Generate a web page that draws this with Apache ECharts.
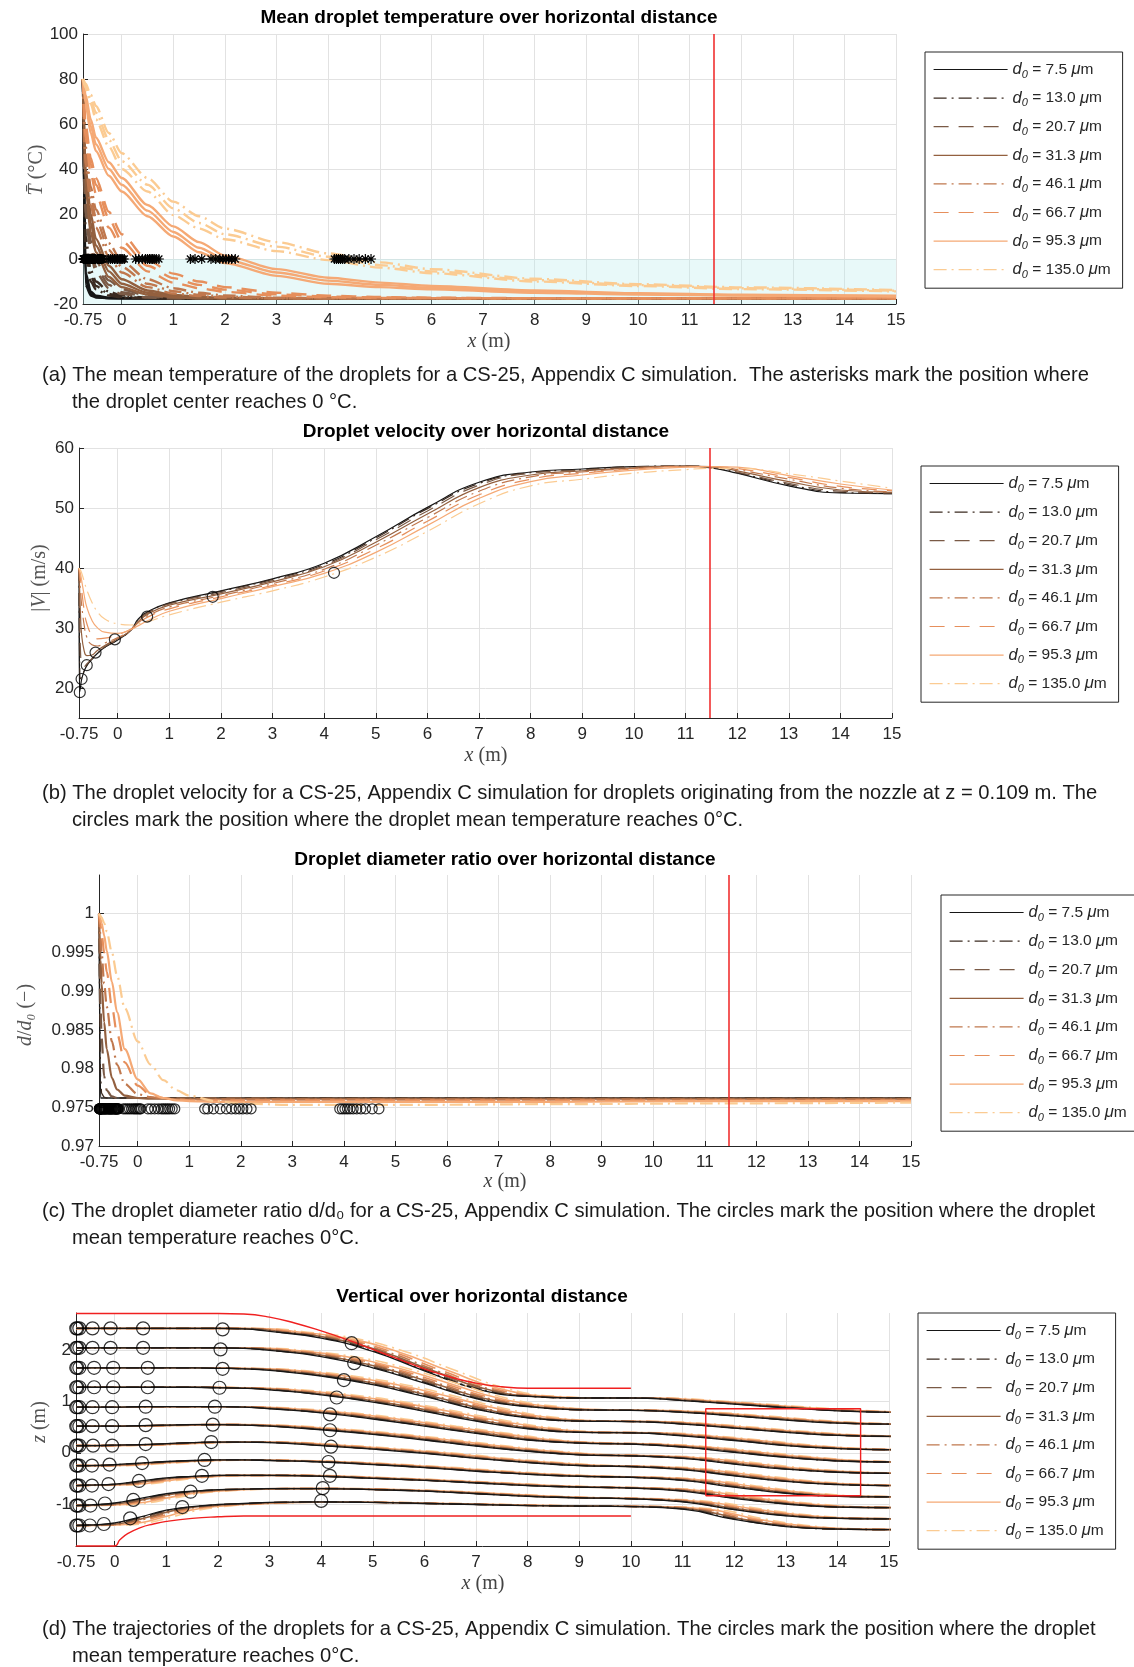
<!DOCTYPE html>
<html><head><meta charset="utf-8">
<script src="https://cdn.jsdelivr.net/npm/echarts@6/dist/echarts.min.js"></script>
<style>html,body{margin:0;padding:0;background:#fff}#c{width:1134px;height:1667px}</style>
</head><body><div id="c"></div>
<script>
// ---------------- data ----------------
const diameters = ['7.5','13.0','20.7','31.3','46.1','66.7','95.3','135.0'];
const seriesNames = diameters.map(d => 'd0 = ' + d + ' μm');
const xTicks = [-0.75,0,1,2,3,4,5,6,7,8,9,10,11,12,13,14,15];
const redLineX = 11.46;

// (a) mean temperature, three strands per diameter
const xA = [-0.75,-0.7,-0.6,-0.5,-0.25,0,0.5,1,1.5,2,3,4,5,6,8,10,12,15];
const tempD075 = [
  [80,-6,-14.5,-16.3,-17.2,-17.4,-17.5,-17.5,-17.5,-17.5,-17.5,-17.5,-17.5,-17.5,-17.5,-17.5,-17.5,-17.5],
  [80,-9,-15.5,-16.8,-17.4,-17.5,-17.5,-17.5,-17.5,-17.5,-17.5,-17.5,-17.5,-17.5,-17.5,-17.5,-17.5,-17.5],
  [80,-11.5,-16.2,-17.1,-17.5,-17.5,-17.5,-17.5,-17.5,-17.5,-17.5,-17.5,-17.5,-17.5,-17.5,-17.5,-17.5,-17.5]];
const tempD130 = [
  [80,10,-5,-10,-14.5,-16.2,-17.2,-17.5,-17.5,-17.5,-17.5,-17.5,-17.5,-17.5,-17.5,-17.5,-17.5,-17.5],
  [80,6,-7.5,-12,-15.5,-16.8,-17.4,-17.5,-17.5,-17.5,-17.5,-17.5,-17.5,-17.5,-17.5,-17.5,-17.5,-17.5],
  [80,2,-10,-13.5,-16.2,-17.1,-17.5,-17.5,-17.5,-17.5,-17.5,-17.5,-17.5,-17.5,-17.5,-17.5,-17.5,-17.5]];
const tempD207 = [
  [80,28,8,-1,-9.5,-13.5,-16.3,-17.2,-17.4,-17.5,-17.5,-17.5,-17.5,-17.5,-17.5,-17.5,-17.5,-17.5],
  [80,24,5,-3.5,-11.5,-14.8,-16.8,-17.4,-17.5,-17.5,-17.5,-17.5,-17.5,-17.5,-17.5,-17.5,-17.5,-17.5],
  [80,20,2,-6,-13,-15.6,-17.1,-17.5,-17.5,-17.5,-17.5,-17.5,-17.5,-17.5,-17.5,-17.5,-17.5,-17.5]];
const tempD313 = [
  [80,40,20,9,-3,-9,-14,-16,-16.9,-17.3,-17.5,-17.5,-17.5,-17.5,-17.5,-17.5,-17.5,-17.5],
  [80,36,16,6,-5.5,-11,-15,-16.6,-17.2,-17.4,-17.5,-17.5,-17.5,-17.5,-17.5,-17.5,-17.5,-17.5],
  [80,32,12,3,-8,-12.5,-15.8,-17,-17.4,-17.5,-17.5,-17.5,-17.5,-17.5,-17.5,-17.5,-17.5,-17.5]];
const tempD461 = [
  [80,50,32,22,7,-1,-9,-13,-15,-16.2,-17.2,-17.5,-17.5,-17.5,-17.5,-17.5,-17.5,-17.5],
  [80,46,28,18,4,-3.5,-11,-14.3,-15.9,-16.7,-17.4,-17.5,-17.5,-17.5,-17.5,-17.5,-17.5,-17.5],
  [80,42,24,14,1,-6,-12.5,-15.3,-16.5,-17.1,-17.5,-17.5,-17.5,-17.5,-17.5,-17.5,-17.5,-17.5]];
const tempD667 = [
  [80,60,45,36,21,11,-0.5,-6.5,-10,-12.5,-15,-16.3,-16.9,-17.2,-17.4,-17.5,-17.5,-17.5],
  [80,57,42,33,18,8,-3,-8.5,-11.5,-13.6,-15.7,-16.7,-17.1,-17.3,-17.5,-17.5,-17.5,-17.5],
  [80,54,38,29,14,5,-5.5,-10.5,-13,-14.6,-16.3,-17,-17.3,-17.4,-17.5,-17.5,-17.5,-17.5]];
const tempD953 = [
  [80,73,62,54,43,36,24,14.5,7.5,1.5,-4.5,-8.3,-10.5,-12,-14,-15.2,-15.9,-16.3],
  [80,71,59,51,40,33,21.5,12,5,-0.2,-6,-9.6,-11.5,-12.8,-14.5,-15.5,-16.1,-16.5],
  [80,69,56,48,37,30,19,10,3,-1.8,-7.5,-11,-12.5,-13.5,-15,-15.8,-16.3,-16.7]];
const tempD1350 = [
  [80,78,73,68,56,47,36,25.5,19,13.5,7.5,2.5,-1.5,-4.5,-8.8,-11.2,-12.6,-13.8],
  [80,77,71,65,53,43.5,33,22.5,16,11,5.5,1,-2.7,-5.5,-9.4,-11.6,-13,-14.1],
  [80,76,69,62,50,40,30,19.5,13.5,8.8,3.5,-0.5,-3.8,-6.3,-10,-12,-13.4,-14.4]];
// (a) asterisks: x where droplet centre reaches 0 degC (T = 0)
const starsD075 = [-0.745,-0.74,-0.735,-0.73,-0.73,-0.725,-0.72,-0.72,-0.715,-0.71,-0.70];
const starsD130 = [-0.70,-0.69,-0.68,-0.68,-0.67,-0.66,-0.66,-0.65,-0.64,-0.63,-0.62];
const starsD207 = [-0.60,-0.59,-0.58,-0.57,-0.56,-0.55,-0.54,-0.53,-0.52,-0.51,-0.50];
const starsD313 = [-0.47,-0.46,-0.45,-0.44,-0.43,-0.42,-0.41,-0.40,-0.39,-0.38,-0.36];
const starsD461 = [-0.26,-0.22,-0.18,-0.14,-0.11,-0.08,-0.05,-0.03,-0.01,0.02,0.05];
const starsD667 = [0.27,0.33,0.40,0.46,0.50,0.54,0.57,0.60,0.63,0.67,0.72];
const starsD953 = [1.33,1.42,1.55,1.73,1.82,1.90,1.96,2.02,2.07,2.13,2.20];
const starsD1350 = [4.12,4.16,4.20,4.24,4.28,4.32,4.40,4.50,4.60,4.72,4.83];

// (b) velocity
const xB = [-0.75,-0.74,-0.72,-0.7,-0.65,-0.6,-0.5,-0.4,-0.25,0,0.25,0.4,0.6,1,2,3,4,5,6,7,8,9,10,11,11.5,12,13,14,15];
const velD075 = [40,19.3,20.2,21.4,22.8,23.7,24.8,25.7,26.8,28,29.6,31.5,32.8,34.2,36.2,38.2,40.8,45.2,50.1,54.3,56.0,56.5,56.9,57.0,56.7,55.8,53.7,52.5,52.4];
const velD130 = [40,27,21.5,21.8,22.9,23.8,24.8,25.7,26.8,28,29.6,31.4,32.7,34.1,36.1,38.1,40.6,45.0,49.9,54.1,55.9,56.4,56.9,57.0,56.8,55.9,53.9,52.6,52.4];
const velD207 = [40,33,26,24,23.6,24,24.9,25.8,26.9,28.1,29.6,31.3,32.6,34,35.9,37.9,40.4,44.7,49.5,53.8,55.8,56.3,56.8,57.0,56.8,56.0,54.1,52.8,52.5];
const velD313 = [40,37,32,29,26.2,25.4,25.5,26.2,27.1,28.2,29.6,31.1,32.4,33.8,35.7,37.7,40.2,44.3,49.0,53.4,55.5,56.2,56.7,57.0,56.9,56.2,54.4,53.0,52.6];
const velD461 = [40,38.5,36,34,30.5,28.5,27.2,27,27.5,28.4,29.6,30.9,32.1,33.5,35.4,37.4,39.8,43.8,48.4,52.8,55.2,56.0,56.6,56.9,56.9,56.4,54.8,53.3,52.7];
const velD667 = [40,39.3,38,36.5,33,30.8,28.8,28.2,28.3,28.9,29.8,30.8,31.9,33.2,35.2,37.1,39.5,43.2,47.8,52.2,54.8,55.8,56.5,56.9,56.9,56.6,55.1,53.6,52.9];
const velD953 = [40,39.6,39,38,35.5,33.5,31.3,30.1,29.3,29.1,29.7,30.4,31.3,32.8,34.9,36.9,39.1,42.6,47.1,51.6,54.4,55.5,56.3,56.8,56.9,56.8,55.4,54.0,53.0];
const velD1350 = [40,39.8,39.6,39.2,37.8,36.4,34.3,32.8,31.5,30.7,30.5,30.7,31.1,32.2,34.3,36.2,38.5,41.8,46.1,50.7,53.7,54.8,55.8,56.4,56.6,56.6,55.7,54.5,53.3];
const velCircleX = [-0.735,-0.70,-0.60,-0.43,-0.055,0.57,1.84,4.19];
const velCircleY = [19.3,21.5,23.8,25.9,28.1,31.9,35.2,39.2];

// (c) diameter ratio
const xC = [-0.75,-0.72,-0.7,-0.65,-0.6,-0.5,-0.4,-0.25,0,0.25,0.5,0.75,1,1.5,2,3,5,8,11,15];
const ratioD075 = [1,0.9762,0.9762,0.9762,0.9762,0.9762,0.9762,0.9762,0.9762,0.9762,0.9762,0.9762,0.9762,0.9762,0.9762,0.9762,0.9762,0.9762,0.9762,0.9762];
const ratioD130 = [1,0.979,0.9768,0.9763,0.9762,0.9762,0.9762,0.9762,0.9762,0.9762,0.9762,0.9762,0.9762,0.9762,0.9762,0.9762,0.9762,0.9762,0.9762,0.9762];
const ratioD207 = [1,0.988,0.984,0.979,0.9772,0.9764,0.9762,0.9762,0.9762,0.9762,0.9762,0.9762,0.9762,0.9762,0.9762,0.9761,0.9761,0.9761,0.9761,0.9761];
const ratioD313 = [1,0.994,0.991,0.986,0.9825,0.9788,0.9773,0.9765,0.9762,0.9761,0.9761,0.9761,0.9761,0.9761,0.9761,0.9761,0.9761,0.9761,0.9761,0.9761];
const ratioD461 = [1,0.997,0.995,0.991,0.988,0.9835,0.9805,0.978,0.9767,0.9763,0.9761,0.976,0.976,0.976,0.976,0.976,0.976,0.976,0.976,0.976];
const ratioD667 = [1,0.9985,0.9975,0.995,0.9925,0.988,0.9845,0.9808,0.9778,0.9766,0.9762,0.976,0.9759,0.9759,0.9759,0.9759,0.9759,0.9759,0.9759,0.9759];
const ratioD953 = [1,0.9993,0.9988,0.9972,0.9952,0.9912,0.9873,0.9825,0.9786,0.9768,0.9762,0.9759,0.9758,0.9757,0.9757,0.9757,0.9757,0.9757,0.9758,0.9758];
const ratioD1350 = [1,0.9997,0.9995,0.9988,0.9977,0.995,0.992,0.9878,0.9835,0.9805,0.9785,0.9772,0.9765,0.9758,0.9755,0.9753,0.9753,0.9754,0.9755,0.9756];
const ratioCircleY = 0.9748;
const circC_D075 = [-0.745,-0.74,-0.74,-0.735,-0.73,-0.73,-0.725,-0.72,-0.72,-0.715,-0.71];
const circC_D130 = [-0.70,-0.69,-0.68,-0.67,-0.66,-0.65,-0.64,-0.63,-0.62,-0.61,-0.60];
const circC_D207 = [-0.58,-0.57,-0.56,-0.55,-0.54,-0.53,-0.52,-0.51,-0.50,-0.49,-0.48];
const circC_D313 = [-0.46,-0.45,-0.44,-0.43,-0.42,-0.42,-0.41,-0.40,-0.39,-0.38,-0.37];
const circC_D461 = [-0.28,-0.24,-0.20,-0.16,-0.12,-0.08,-0.05,-0.02,0.01,0.04,0.06];
const circC_D667 = [0.20,0.26,0.33,0.40,0.46,0.50,0.54,0.58,0.62,0.67,0.72];
const circC_D953 = [1.30,1.36,1.47,1.60,1.72,1.82,1.90,1.97,2.04,2.12,2.20];
const circC_D1350 = [3.92,3.97,4.02,4.07,4.12,4.18,4.25,4.33,4.42,4.55,4.68];

// (d) trajectories (d0 = 7.5 um path per nozzle row) and lag of larger droplets (m)
const xD = [-0.75,-0.5,0,0.5,1,1.5,2,2.5,3,4,5,6,7,8,9,10,11,12,13,14,15];
const trajRow01 = [2.43,2.43,2.43,2.43,2.43,2.43,2.43,2.42,2.37,2.24,1.98,1.60,1.25,1.10,1.07,1.07,1.02,0.95,0.88,0.82,0.79];
const trajRow02 = [2.05,2.05,2.05,2.05,2.05,2.05,2.05,2.04,2.00,1.88,1.66,1.36,1.06,0.90,0.84,0.83,0.79,0.72,0.64,0.58,0.56];
const trajRow03 = [1.66,1.66,1.66,1.66,1.66,1.66,1.65,1.64,1.61,1.50,1.33,1.10,0.85,0.68,0.62,0.61,0.56,0.48,0.40,0.34,0.32];
const trajRow04 = [1.28,1.28,1.28,1.28,1.28,1.28,1.27,1.26,1.23,1.13,0.99,0.81,0.62,0.47,0.40,0.39,0.33,0.24,0.14,0.08,0.06];
const trajRow05 = [0.89,0.89,0.89,0.90,0.90,0.90,0.90,0.89,0.86,0.78,0.66,0.52,0.38,0.25,0.19,0.17,0.11,0.01,-0.09,-0.16,-0.18];
const trajRow06 = [0.52,0.52,0.52,0.53,0.54,0.55,0.55,0.54,0.52,0.45,0.36,0.25,0.13,0.03,-0.04,-0.06,-0.11,-0.22,-0.32,-0.38,-0.40];
const trajRow07 = [0.14,0.14,0.15,0.16,0.18,0.20,0.21,0.21,0.20,0.14,0.07,-0.01,-0.11,-0.19,-0.25,-0.27,-0.33,-0.45,-0.56,-0.62,-0.64];
const trajRow08 = [-0.25,-0.25,-0.23,-0.20,-0.17,-0.15,-0.14,-0.14,-0.15,-0.18,-0.23,-0.29,-0.36,-0.42,-0.46,-0.48,-0.54,-0.67,-0.79,-0.85,-0.86];
const trajRow09 = [-0.64,-0.63,-0.61,-0.55,-0.49,-0.46,-0.44,-0.44,-0.44,-0.46,-0.50,-0.54,-0.59,-0.64,-0.67,-0.69,-0.75,-0.89,-1.00,-1.06,-1.07];
const trajRow10 = [-1.03,-1.02,-0.98,-0.89,-0.80,-0.75,-0.72,-0.71,-0.70,-0.70,-0.72,-0.75,-0.80,-0.85,-0.88,-0.90,-0.96,-1.11,-1.23,-1.28,-1.29];
const trajRow11 = [-1.42,-1.41,-1.37,-1.25,-1.12,-1.05,-1.01,-0.99,-0.97,-0.96,-0.97,-0.99,-1.01,-1.03,-1.04,-1.05,-1.10,-1.30,-1.44,-1.49,-1.50];
const lagByDiameter = [0,0.05,0.1,0.17,0.25,0.35,0.47,0.62];
// (d) circles (x, z) for each diameter
const circD_D075x = [-0.745,-0.745,-0.745,-0.745,-0.745,-0.745,-0.745,-0.745,-0.745,-0.745,-0.745];
const circD_D130x = [-0.725,-0.725,-0.725,-0.725,-0.725,-0.725,-0.725,-0.725,-0.725,-0.725,-0.725];
const circD_D207x = [-0.685,-0.685,-0.685,-0.685,-0.685,-0.685,-0.685,-0.685,-0.685,-0.685,-0.685];
const circD_startZ = [2.43,2.05,1.66,1.28,0.89,0.52,0.14,-0.25,-0.64,-1.03,-1.42];
const circD_D313x = [-0.43,-0.43,-0.40,-0.40,-0.43,-0.43,-0.42,-0.44,-0.44,-0.47,-0.48];
const circD_D461x = [-0.08,-0.08,-0.03,-0.03,-0.05,-0.05,-0.05,-0.10,-0.12,-0.19,-0.21];
const circD_D461z = [2.43,2.05,1.66,1.28,0.89,0.52,0.14,-0.23,-0.61,-0.99,-1.39];
const circD_D667x = [0.55,0.55,0.64,0.64,0.60,0.60,0.60,0.53,0.47,0.36,0.30];
const circD_D667z = [2.43,2.05,1.66,1.28,0.90,0.54,0.17,-0.20,-0.55,-0.92,-1.28];
const circD_D953x = [2.09,2.05,2.09,2.03,1.94,1.90,1.87,1.74,1.69,1.47,1.31];
const circD_D953z = [2.41,2.02,1.64,1.27,0.90,0.55,0.21,-0.14,-0.45,-0.76,-1.06];
const circD_D1350x = [4.59,4.64,4.44,4.30,4.17,4.17,4.19,4.14,4.17,4.03,4.00];
const circD_D1350z = [2.14,1.75,1.42,1.08,0.75,0.44,0.12,-0.18,-0.45,-0.69,-0.94];
// (d) red boundaries
const wallTopX = [-0.75,2,2.5,3,3.5,4,4.5,5,5.5,6,6.5,7,7.5,8,10];
const wallTopZ = [2.72,2.72,2.71,2.65,2.53,2.38,2.21,2.02,1.83,1.64,1.48,1.36,1.29,1.26,1.26];
const wallBotX = [-0.75,0,0.1,0.25,0.5,0.75,1,1.5,2,2.5,10];
const wallBotZ = [-1.82,-1.82,-1.70,-1.58,-1.46,-1.39,-1.34,-1.28,-1.25,-1.235,-1.235];
const boxX = [11.45,14.45,14.45,11.45,11.45];
const boxZ = [-0.84,-0.84,0.86,0.86,-0.84];

// ---------------- tables built from the arrays ----------------
const tempA = [tempD075,tempD130,tempD207,tempD313,tempD461,tempD667,tempD953,tempD1350];
const starsA = [starsD075,starsD130,starsD207,starsD313,starsD461,starsD667,starsD953,starsD1350];
const velB = [velD075,velD130,velD207,velD313,velD461,velD667,velD953,velD1350];
const ratioC = [ratioD075,ratioD130,ratioD207,ratioD313,ratioD461,ratioD667,ratioD953,ratioD1350];
const circC = [circC_D075,circC_D130,circC_D207,circC_D313,circC_D461,circC_D667,circC_D953,circC_D1350];
const trajRows = [trajRow01,trajRow02,trajRow03,trajRow04,trajRow05,trajRow06,trajRow07,trajRow08,trajRow09,trajRow10,trajRow11];
const circDx = [circD_D075x,circD_D130x,circD_D207x,circD_D313x,circD_D461x,circD_D667x,circD_D953x,circD_D1350x];
const circDz = [circD_startZ,circD_startZ,circD_startZ,circD_startZ,circD_D461z,circD_D667z,circD_D953z,circD_D1350z];

// ---------------- styles ----------------
const palette = ['#161616','#3b2b21','#7a5a46','#93603f','#c0784e','#e68f5c','#f5a975','#fbcb92'];
const DASHDOT = [13,5,2,5], DASHED = [15,10];
const dashTypes = ['solid',DASHDOT,DASHED,'solid',DASHDOT,DASHED,'solid',DASHDOT];
const FONT = '"Liberation Sans", Arial, Helvetica, sans-serif';
const SERIF = '"Liberation Serif", "DejaVu Serif", serif';
const ASTERISK = 'path://M5,0L5,10M0,5L10,5M1.5,1.5L8.5,8.5M1.5,8.5L8.5,1.5';
const HOLLOW = {color:'rgba(0,0,0,0)', borderColor:'#000', borderWidth:1.2};

const grids = [
  {left:83, top:34, width:813, height:270},
  {left:79, top:448, width:813, height:270},
  {left:99, top:875, width:812, height:271},
  {left:76, top:1313, width:813, height:233}
].map(g => Object.assign({containLabel:false, outerBoundsMode:'none'}, g));

function xAxisFor(i){
  return {type:'value', gridIndex:i, min:-0.75, max:15,
    axisLine:{onZero:false, lineStyle:{color:'#262626', width:1}},
    axisTick:{inside:true, length:5, customValues:xTicks, lineStyle:{color:'#262626'}},
    axisLabel:{customValues:xTicks, color:'#262626', fontSize:17, fontFamily:FONT, margin:8, formatter:v=>String(v)},
    splitLine:{show:true, lineStyle:{color:'#e2e2e2', width:1}}};
}
function yAxisFor(i, min, max, ticks, interval){
  const ax = {type:'value', gridIndex:i, min, max,
    axisLine:{show:true, onZero:false, lineStyle:{color:'#262626', width:1}},
    axisTick:{inside:true, length:5, lineStyle:{color:'#262626'}},
    axisLabel:{color:'#262626', fontSize:17, fontFamily:FONT, margin:5, formatter:v=>String(v)},
    splitLine:{show:true, lineStyle:{color:'#e2e2e2', width:1}}};
  if (ticks) { ax.axisTick.customValues = ticks; ax.axisLabel.customValues = ticks; }
  if (interval) ax.interval = interval;
  return ax;
}

const series = [];
const redMark = {silent:true, symbol:['none','none'], label:{show:false},
  lineStyle:{color:'#f03030', width:1.6, type:'solid'}, data:[{xAxis:redLineX}]};

// (a)
tempA.forEach((strands, k) => strands.forEach((arr, j) => {
  const s = {type:'line', name:seriesNames[k], xAxisIndex:0, yAxisIndex:0, symbol:'none',
    smooth:0.25, smoothMonotone:'x', data:xA.map((x,i)=>[x, arr[i]]),
    lineStyle:{color:palette[k], width:2.4, type:dashTypes[k]}, itemStyle:{color:palette[k]}};
  if (k === 0 && j === 0) {
    s.markLine = redMark;
    s.markArea = {silent:true, itemStyle:{color:'rgba(185,235,235,0.32)'},
      data:[[{xAxis:-0.75, yAxis:0},{xAxis:15, yAxis:-20}]]};
  }
  series.push(s);
}));
starsA.forEach((xs, k) => series.push({type:'line', name:'_stars'+k, xAxisIndex:0, yAxisIndex:0,
  data:xs.map(x=>[x,0]), symbol:ASTERISK, symbolSize:10, showSymbol:true, z:6,
  lineStyle:{color:'#000', width:1}, itemStyle:HOLLOW}));

// (b)
velB.forEach((arr, k) => {
  const s = {type:'line', name:seriesNames[k], xAxisIndex:1, yAxisIndex:1, symbol:'none',
    smooth:0.5, data:xB.map((x,i)=>[x, arr[i]]),
    lineStyle:{color:palette[k], width:1.2, type:dashTypes[k]}, itemStyle:{color:palette[k]}};
  if (k === 0) s.markLine = redMark;
  series.push(s);
});
series.push({type:'scatter', name:'_circB', xAxisIndex:1, yAxisIndex:1, z:6,
  data:velCircleX.map((x,i)=>[x, velCircleY[i]]), symbol:'circle', symbolSize:11, itemStyle:HOLLOW});

// (c)
ratioC.forEach((arr, k) => {
  const s = {type:'line', name:seriesNames[k], xAxisIndex:2, yAxisIndex:2, symbol:'none',
    smooth:0.3, smoothMonotone:'x', data:xC.map((x,i)=>[x, arr[i]]),
    lineStyle:{color:palette[k], width:k<2?1.4:2.2, type:dashTypes[k]}, itemStyle:{color:palette[k]}};
  if (k === 0) s.markLine = redMark;
  series.push(s);
});
circC.forEach((xs, k) => series.push({type:'scatter', name:'_circC'+k, xAxisIndex:2, yAxisIndex:2, z:6,
  data:xs.map(x=>[x, ratioCircleY]), symbol:'circle', symbolSize:10, itemStyle:HOLLOW}));

// (d)
trajRows.forEach(row => {
  for (let k = 7; k >= 0; k--) {
    series.push({type:'line', name:seriesNames[k], xAxisIndex:3, yAxisIndex:3, symbol:'none',
      smooth:0.5,
      data:xD.map((x,i)=>[i===0 ? x : x + lagByDiameter[k], row[i]]),
      lineStyle:{color:palette[k], width:k<3?1.3:1.6, type:dashTypes[k]}, itemStyle:{color:palette[k]}});
  }
});
const redLine = {color:'#f02020', width:1.4};
series.push({type:'line', name:'_wallTop', xAxisIndex:3, yAxisIndex:3, symbol:'none', smooth:0.5, clip:false,
  data:wallTopX.map((x,i)=>[x, wallTopZ[i]]), lineStyle:redLine, z:4});
series.push({type:'line', name:'_wallBot', xAxisIndex:3, yAxisIndex:3, symbol:'none', smooth:0.5, clip:false,
  data:wallBotX.map((x,i)=>[x, wallBotZ[i]]), lineStyle:redLine, z:4});
series.push({type:'line', name:'_box', xAxisIndex:3, yAxisIndex:3, symbol:'none',
  data:boxX.map((x,i)=>[x, boxZ[i]]), lineStyle:redLine, z:4});
circDx.forEach((xs, k) => series.push({type:'scatter', name:'_circD'+k, xAxisIndex:3, yAxisIndex:3, z:6,
  data:xs.map((x,i)=>[x, circDz[k][i]]), symbol:'circle', symbolSize:13, itemStyle:HOLLOW}));

// legends
const legendPos = [[925,52],[921,466],[941,895],[918,1313]];
const legends = legendPos.map(p => ({
  orient:'vertical', left:p[0], top:p[1], data:seriesNames, selectedMode:false,
  itemWidth:74, itemHeight:14, itemGap:7.6, padding:[7,12,8,8],
  borderColor:'#262626', borderWidth:1, backgroundColor:'#fff',
  lineStyle:{width:1.2}, itemStyle:{opacity:0},
  formatter: name => {
    const v = name.replace('d0 = ','').replace(' μm','');
    return '{i|d}{s|0}{t| = ' + v + ' }{i|μ}{t|m}';
  },
  textStyle:{fontSize:15.5, color:'#262626', fontFamily:FONT,
    rich:{i:{fontStyle:'italic', fontSize:16.5, fontFamily:FONT, color:'#262626', lineHeight:17},
          s:{fontStyle:'italic', fontSize:11, fontFamily:FONT, color:'#262626', padding:[10,0,0,0], lineHeight:17},
          t:{fontSize:15.5, fontFamily:FONT, color:'#262626', lineHeight:17}}}
}));

// texts
function T(x, y, text, o){
  return {type:'text', x, y, silent:true, z:100,
    style:Object.assign({text, fill:'#000', font:'20px ' + FONT, align:'left', textAlign:'left',
      verticalAlign:'middle', textVerticalAlign:'middle'}, o||{})};
}
const titleStyle = {font:'bold 19px ' + FONT, align:'center', textAlign:'center'};
const xName = (x,y) => T(x, y, '{i|x} (m)', {font:'20px ' + SERIF, fill:'#444', align:'center', textAlign:'center',
  rich:{i:{fontStyle:'italic', fontSize:20, fontFamily:SERIF, fill:'#444'}}});
function yName(x, y, text, rich){
  const e = T(0, 0, text, {font:'20px ' + SERIF, fill:'#555', align:'center', textAlign:'center', rich});
  e.x = x; e.y = y; e.rotation = Math.PI/2;
  return e;
}
const itRich = {i:{fontStyle:'italic', fontSize:20, fontFamily:SERIF, fill:'#555'}};
const capStyle = {font:'20.2px ' + FONT, fill:'#1a1a1a'};
const graphic = [
  T(489, 18, 'Mean droplet temperature over horizontal distance', titleStyle),
  T(486, 432, 'Droplet velocity over horizontal distance', titleStyle),
  T(505, 860, 'Droplet diameter ratio over horizontal distance', titleStyle),
  T(482, 1297, 'Vertical over horizontal distance', titleStyle),
  xName(489, 342), xName(486, 756), xName(505, 1182), xName(483, 1584),
  yName(37, 170, '{i|T̄} (°C)', itRich),
  yName(40, 578, '|{i|V}| (m/s)', itRich),
  yName(26, 1015, '{i|d}/{i|d₀} (−)', itRich),
  yName(40, 1422, '{i|z} (m)', itRich),
  T(42, 375, '(a) The mean temperature of the droplets for a CS-25, Appendix C simulation.  The asterisks mark the position where', capStyle),
  T(72, 402, 'the droplet center reaches 0 °C.', capStyle),
  T(42, 793, '(b) The droplet velocity for a CS-25, Appendix C simulation for droplets originating from the nozzle at z = 0.109 m. The', capStyle),
  T(72, 820, 'circles mark the position where the droplet mean temperature reaches 0°C.', capStyle),
  T(42, 1211, '(c) The droplet diameter ratio d/d₀ for a CS-25, Appendix C simulation. The circles mark the position where the droplet', capStyle),
  T(72, 1238, 'mean temperature reaches 0°C.', capStyle),
  T(42, 1629, '(d) The trajectories of the droplets for a CS-25, Appendix C simulation. The circles mark the position where the droplet', capStyle),
  T(72, 1656, 'mean temperature reaches 0°C.', capStyle)
];

const option = {
  animation:false, backgroundColor:'#fff',
  grid:grids,
  xAxis:[0,1,2,3].map(xAxisFor),
  yAxis:[
    yAxisFor(0, -20, 100, null, 20),
    yAxisFor(1, 15, 60, [20,30,40,50,60]),
    yAxisFor(2, 0.97, 1.005, [0.97,0.975,0.98,0.985,0.99,0.995,1]),
    yAxisFor(3, -1.82, 2.73, [-1,0,1,2])
  ],
  legend:legends,
  graphic:graphic,
  series:series
};
const chart = echarts.init(document.getElementById('c'), null, {renderer:'canvas'});
chart.setOption(option);
</script></body></html>
